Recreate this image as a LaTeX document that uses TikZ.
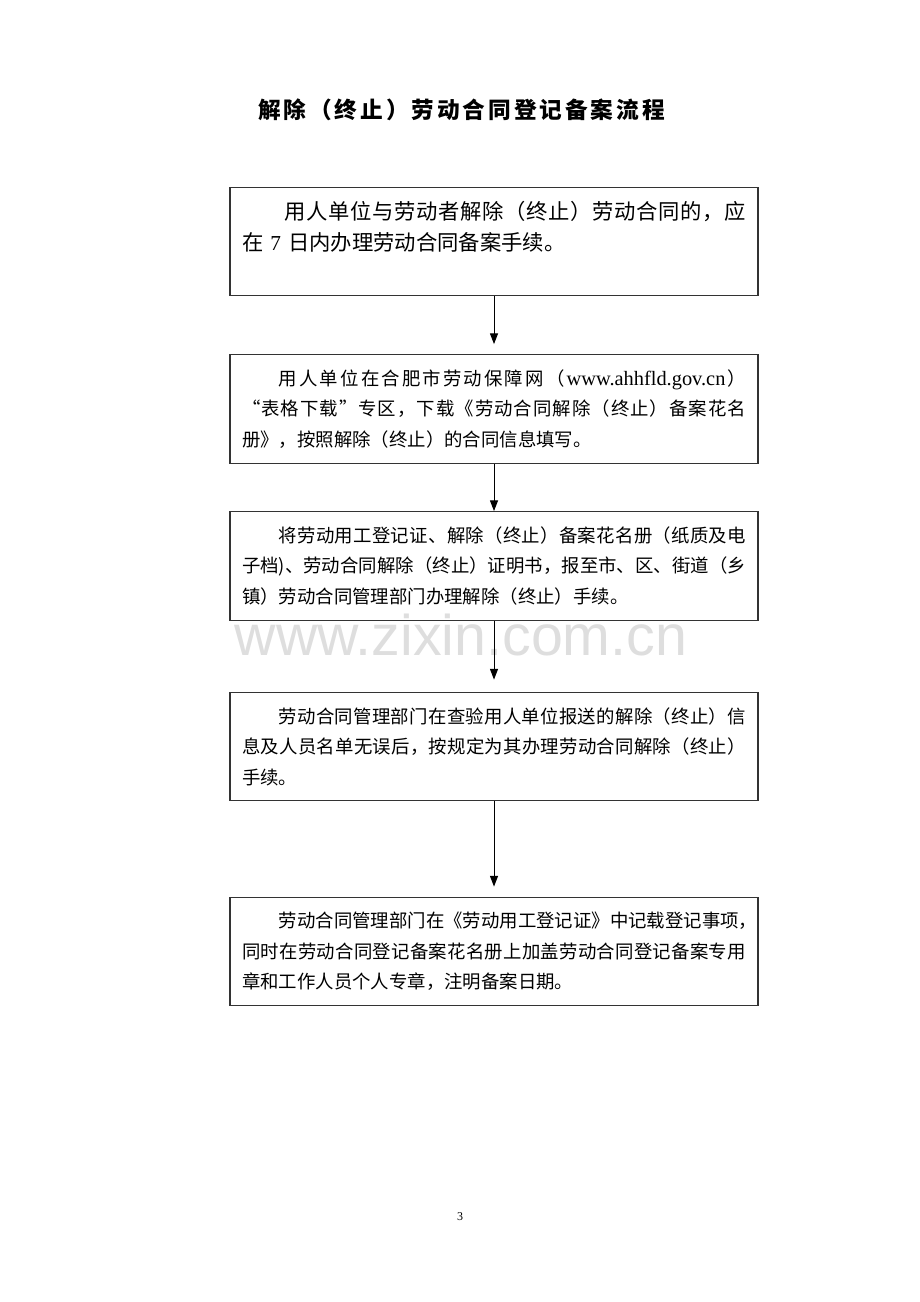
\documentclass[tikz,border=0pt]{standalone}
\usepackage{fontspec}
\setmainfont{Liberation Serif}
\newfontfamily\cjk{Noto Sans CJK SC}
\newfontfamily\wmfont{Liberation Sans}
\usetikzlibrary{arrows.meta}
\makeatletter
\def\spendmark{\spendmark}
\def\fl@a#1{#1\fl@b}
\def\fl@b#1{\ifx\spendmark#1\else\hfil#1\expandafter\fl@b\fi}
\newcommand\sprd[2]{\makebox[#1][s]{\fl@a#2\spendmark}}
\newcommand\fl[1]{\makebox[378pt][s]{\fl@a#1\spendmark}}
\newcommand\fli[1]{\makebox[378pt][s]{\hskip 2em\fl@a#1\spendmark}}
\makeatother
\newcommand\wurl{{\rmfamily\fontsize{15.3pt}{22.9pt}\selectfont www.ahhfld.gov.cn}}
\begin{document}
\begin{tikzpicture}[x=0.75pt,y=-0.75pt,
  box/.style={draw=black!80, line width=0.9pt, minimum width=396pt, minimum height=81.5pt,
    text width=378pt, inner xsep=9pt, inner ysep=0pt, align=left,
    font=\cjk\fontsize{13.8pt}{22.9pt}\selectfont},
  arr/.style={-{Triangle[length=8pt,width=6pt]}, line width=0.75pt}]
\useasboundingbox (0,0) rectangle (920,1302);
\node[font=\wmfont\fontsize{43pt}{43pt}\selectfont, text=black!13, anchor=base, inner sep=0pt] (wm) at (461,655) {www.zixin.com.cn};
\node[font=\cjk\bfseries\fontsize{17pt}{20pt}\selectfont, inner sep=0pt] (title) at (461.5,110) {\sprd{305pt}{解除（终止）劳动合同登记备案流程}};

\node[box, font=\cjk\fontsize{16pt}{23.25pt}\selectfont] (b1) at (494,241.5) {\fli{用人单位与劳动者解除（终止）劳动合同的，应}\\
在~{\rmfamily 7}~日内办理劳动合同备案手续。\\
\mbox{}};

\node[box] (b2) at (494,409) {\fli{用人单位在合肥市劳动保障网（\wurl）}\\
\fl{“表格下载”专区，下载《劳动合同解除（终止）备案花名}\\
册》，按照解除（终止）的合同信息填写。};

\node[box] (b3) at (494,566) {\fli{将劳动用工登记证、解除（终止）备案花名册（纸质及电}\\
\fl{子档)、劳动合同解除（终止）证明书，报至市、区、街道（乡}\\
镇）劳动合同管理部门办理解除（终止）手续。};

\node[box] (b4) at (494,746.5) {\fli{劳动合同管理部门在查验用人单位报送的解除（终止）信}\\
\fl{息及人员名单无误后，按规定为其办理劳动合同解除（终止）}\\
手续。};

\node[box] (b5) at (494,951.5) {\fli{劳动合同管理部门在《劳动用工登记证》中记载登记事项，}\\
\fl{同时在劳动合同登记备案花名册上加盖劳动合同登记备案专用}\\
章和工作人员个人专章，注明备案日期。};

\draw[arr, shorten >=7.5pt] (b1) -- (b2);
\draw[arr] (b2) -- (b3);
\draw[arr, shorten >=9pt] (b3) -- (b4);
\draw[arr, shorten >=7.5pt] (b4) -- (b5);

\node[font=\rmfamily\fontsize{9pt}{10pt}\selectfont, inner sep=0pt] (pn) at (460,1217) {3};
\end{tikzpicture}
\end{document}
